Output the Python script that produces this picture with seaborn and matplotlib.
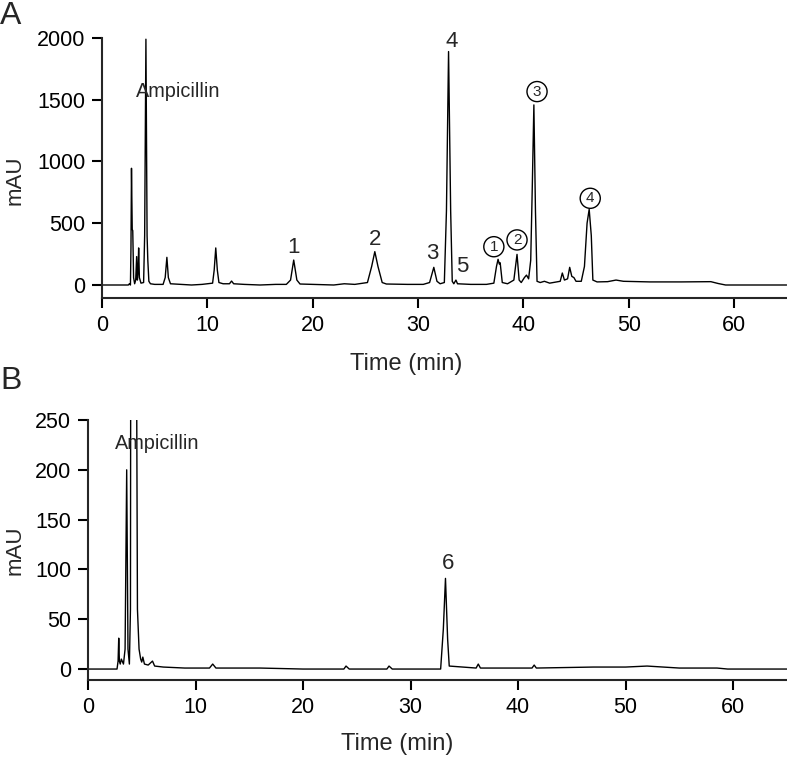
import pandas as pd
import matplotlib
matplotlib.use("Agg")
import matplotlib.pyplot as plt
import seaborn as sns

# chromatogram A (time in min, signal in mAU)
time_a = [0, 2.5, 2.6, 2.7, 2.75, 2.8, 2.87, 2.92, 3.0, 3.1, 3.2, 3.29, 3.36, 3.42, 3.48, 3.55,
          3.7, 3.95, 4.05, 4.17, 4.28, 4.35, 4.45, 4.6, 5.0, 5.8, 6.0, 6.16, 6.3, 6.5, 7.5, 8.5,
          9.5, 10.5, 10.65, 10.8, 10.95, 11.1, 11.5, 12.1, 12.3, 12.5, 13.5, 15, 16.5, 17.5,
          17.9, 18.2, 18.5, 18.8, 20, 22, 23, 24, 25.2, 25.6, 25.9, 26.2, 26.6, 27, 29, 30.5,
          31.1, 31.5, 31.8, 32.1, 32.5, 32.7, 32.9, 33.1, 33.25, 33.4, 33.6, 33.75, 35, 36.5,
          37.2, 37.45, 37.6, 37.72, 37.8, 38.0, 38.5, 39.1, 39.4, 39.6, 39.8, 40.1, 40.3, 40.5,
          40.7, 40.85, 41.0, 41.15, 41.3, 41.6, 42, 42.5, 43.5, 43.7, 43.9, 44.2, 44.4, 44.6,
          44.8, 45.0, 45.5, 45.8, 46.05, 46.25, 46.45, 46.6, 47, 48, 48.8, 49.5, 52, 55, 57.8,
          58.5, 59.2, 65]
mau_a = [0, 0, 10, 0, 300, 945, 450, 440, 60, 10, 40, 230, 40, 100, 300, 60,
         15, 20, 400, 1990, 400, 200, 30, 10, 5, 5, 60, 224, 60, 10, 5, 0,
         5, 15, 120, 300, 120, 20, 10, 10, 32, 10, 5, 0, 5, 5,
         40, 202, 40, 8, 5, 0, 10, 5, 20, 150, 270, 150, 20, 8, 5, 5,
         20, 143, 30, 10, 20, 600, 1890, 600, 30, 10, 40, 10, 5, 5,
         15, 150, 208, 170, 180, 20, 10, 40, 248, 40, 20, 60, 80, 50,
         200, 800, 1458, 600, 30, 20, 30, 15, 30, 97, 40, 50, 143, 70,
         60, 30, 30, 150, 500, 613, 400, 40, 25, 27, 40, 30, 25, 25, 27,
         12, 0, 0]

# chromatogram B
time_b = [0, 2.7, 2.8, 2.86, 2.92, 3.0, 3.1, 3.3, 3.45, 3.6, 3.72, 3.85, 3.95, 4.02, 4.1, 4.4,
          4.52, 4.6, 4.75, 4.9, 5.0, 5.1, 5.25, 5.6, 6.0, 6.2, 7, 9, 11.3, 11.6, 11.9, 13, 16,
          20, 23.8, 24, 24.3, 27.8, 28, 28.3, 32.8, 33.05, 33.25, 33.45, 33.6, 36.1, 36.3, 36.5,
          41.3, 41.5, 41.7, 47, 50, 52, 55, 58.5, 59.5, 65]
mau_b = [0, 0, 8, 31, 8, 5, 10, 5, 20, 200, 20, 5, 60, 800, 2000, 2000,
         300, 60, 20, 10, 7, 12, 5, 4, 8, 3, 2, 1, 1, 5, 1, 1, 1,
         0, 0, 3, 0, 0, 3, 0, 0, 40, 91, 30, 3, 1, 5, 1,
         1, 4, 1, 2, 2, 3, 1, 1, 0, 0]

x_ticks = [0, 10, 20, 30, 40, 50, 60]
y_ticks_a = [0, 500, 1000, 1500, 2000]
y_ticks_b = [0, 50, 100, 150, 200, 250]

# peak labels: (text, time, mAU)
labels_a = [("1", 18.2, 300), ("2", 25.9, 365), ("3", 31.4, 259), ("4", 33.2, 1968), ("5", 34.2, 146)]
circles_a = [("1", 37.2, 310), ("2", 39.4, 365), ("3", 41.3, 1566), ("4", 46.35, 702)]
labels_b = [("6", 33.5, 106)]

sns.set_theme(style="ticks")
plt.rcParams["font.family"] = ["Liberation Sans", "DejaVu Sans"]
plt.rcParams["axes.linewidth"] = 1.5
plt.rcParams["xtick.major.width"] = 1.5
plt.rcParams["ytick.major.width"] = 1.5
plt.rcParams["xtick.major.size"] = 7
plt.rcParams["ytick.major.size"] = 7
plt.rcParams["xtick.major.pad"] = 5
plt.rcParams["ytick.major.pad"] = 5

fig = plt.figure(figsize=(7.87, 7.58), dpi=100)
ax_a = fig.add_axes([0.1296, 0.6069, 0.870, 0.343])
ax_b = fig.add_axes([0.1118, 0.1029, 0.888, 0.343])

df_a = pd.DataFrame({"time": time_a, "mAU": mau_a})
df_b = pd.DataFrame({"time": time_b, "mAU": mau_b})
sns.lineplot(data=df_a, x="time", y="mAU", ax=ax_a, color="black", linewidth=1.0, estimator=None)
sns.lineplot(data=df_b, x="time", y="mAU", ax=ax_b, color="black", linewidth=1.0, estimator=None)

ax_a.set_xlim(0, 65)
ax_a.set_ylim(-105, 2000)
ax_b.set_xlim(0, 65)
ax_b.set_ylim(-11, 250)

for ax, yt in [(ax_a, y_ticks_a), (ax_b, y_ticks_b)]:
    ax.set_xticks(x_ticks)
    ax.set_yticks(yt)
    ax.tick_params(labelsize=15.5, colors="black")
    ax.set_xlabel("Time (min)", fontsize=17)
    ax.set_ylabel("mAU", fontsize=16)
    sns.despine(ax=ax)

ax_a.yaxis.set_label_coords(-0.111, 0.454)
ax_a.xaxis.set_label_coords(0.445, -0.212)
ax_b.yaxis.set_label_coords(-0.0887, 0.5)
ax_b.xaxis.set_label_coords(0.442, -0.205)

ax_a.text(7.27, 1566, "Ampicillin", fontsize=14.3, ha="center", va="center")
ax_b.text(6.44, 226, "Ampicillin", fontsize=14.3, ha="center", va="center")
for s, t, y in labels_a:
    ax_a.text(t, y, s, fontsize=16, ha="center", va="center")
for s, t, y in circles_a:
    ax_a.text(t, y, s, fontsize=11, ha="center", va="center",
              bbox=dict(boxstyle="circle,pad=0.2", fc="white", ec="black", lw=1.0))
for s, t, y in labels_b:
    ax_b.text(t, y, s, fontsize=16, ha="center", va="center")

fig.text(0.0, 0.999, "A", fontsize=23, ha="left", va="top")
fig.text(0.0, 0.497, "B", fontsize=23, ha="left", va="center")

plt.savefig("out.png", dpi=100)
